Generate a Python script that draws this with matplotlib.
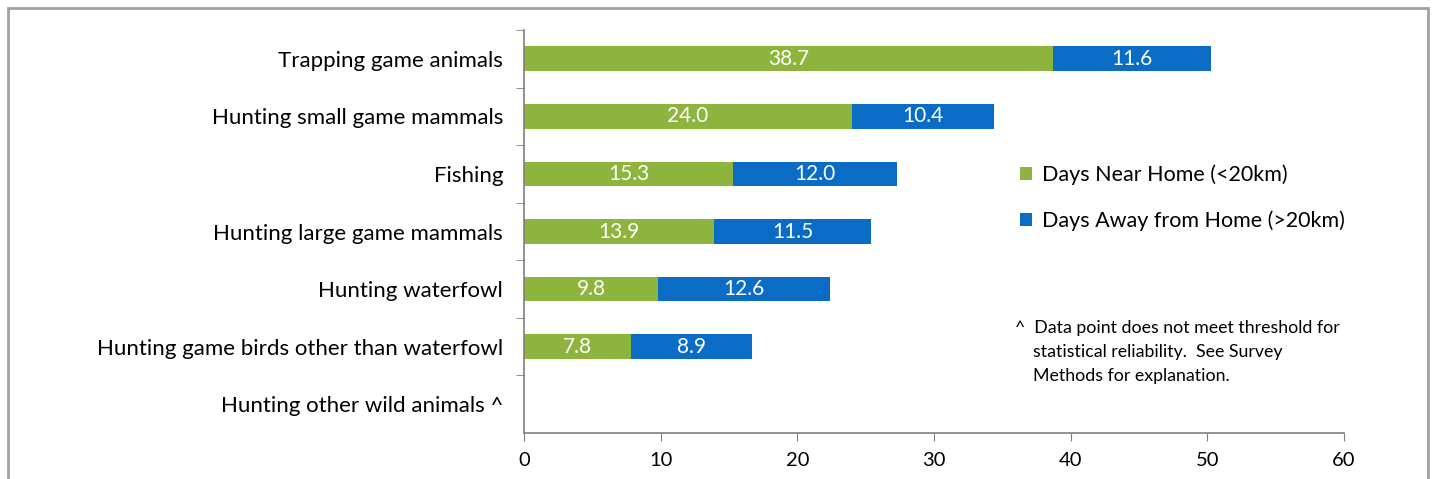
import numpy as np
import matplotlib
matplotlib.use("Agg")
from matplotlib import pyplot as plt
from matplotlib.patches import Rectangle

categories = ['Trapping game animals', 'Hunting small game mammals', 'Fishing',
              'Hunting large game mammals', 'Hunting waterfowl',
              'Hunting game birds other than waterfowl', 'Hunting other wild animals ^']
near_home = [38.7, 24.0, 15.3, 13.9, 9.8, 7.8, np.nan]
away_home = [11.6, 10.4, 12.0, 11.5, 12.6, 8.9, np.nan]
x_ticks = [0, 10, 20, 30, 40, 50, 60]

GREEN = '#8db43c'
BLUE = '#0a6cc4'

plt.rcParams['font.family'] = ['Lato', 'DejaVu Sans']

fig = plt.figure(figsize=(14.34, 4.79), dpi=100)
# grey frame around the chart area
fig.patches.append(Rectangle((8/1434, -0.05), 1420/1434, 1.05 - 8/479, transform=fig.transFigure,
                             fill=False, edgecolor='#a0a0a0', linewidth=2))
ax = fig.add_axes([524/1434, 1 - 433/479, 820/1434, (433 - 30)/479])

y = np.arange(len(categories))
h = 0.43
ax.barh(y, near_home, height=h, color=GREEN, label='Days Near Home (<20km)')
ax.barh(y, away_home, left=near_home, height=h, color=BLUE, label='Days Away from Home (>20km)')

# value labels
for i in range(len(categories)):
    if np.isnan(near_home[i]):
        continue
    ax.text(near_home[i] / 2, y[i], f'{near_home[i]:.1f}', ha='center', va='center',
            color='white', fontsize=15)
    ax.text(near_home[i] + away_home[i] / 2, y[i], f'{away_home[i]:.1f}', ha='center', va='center',
            color='white', fontsize=15)

ax.set_xlim(0, 60)
ax.set_ylim(len(categories) - 0.5, -0.5)
ax.set_xticks(x_ticks)
ax.set_xticklabels([str(t) for t in x_ticks], fontsize=14.5)
ax.set_yticks(y)
ax.set_yticklabels(categories, fontsize=16)
ax.set_yticks(np.arange(-0.5, len(categories) - 0.5, 1), minor=True)
ax.tick_params(axis='y', which='major', length=0, pad=15)
ax.tick_params(axis='y', which='minor', length=6, color='#7f7f7f', direction='out')
ax.tick_params(axis='x', length=6, color='#7f7f7f', direction='out', pad=8)

for s in ['top', 'right']:
    ax.spines[s].set_visible(False)
for s in ['left', 'bottom']:
    ax.spines[s].set_color('#7f7f7f')
    ax.spines[s].set_linewidth(1.2)

leg = ax.legend(loc='upper left', bbox_to_anchor=(0.594, 0.688), frameon=False, fontsize=15.5,
                handlelength=0.55, handleheight=0.55, handletextpad=0.5, labelspacing=1.2,
                borderaxespad=0)

fig.text(1015/1434, 1 - 320/479,
         '^  Data point does not meet threshold for\n    statistical reliability.  See Survey\n    Methods for explanation.',
         fontsize=12.8, va='top', ha='left', linespacing=1.6)

fig.savefig('out.png', dpi=100, facecolor='white')
